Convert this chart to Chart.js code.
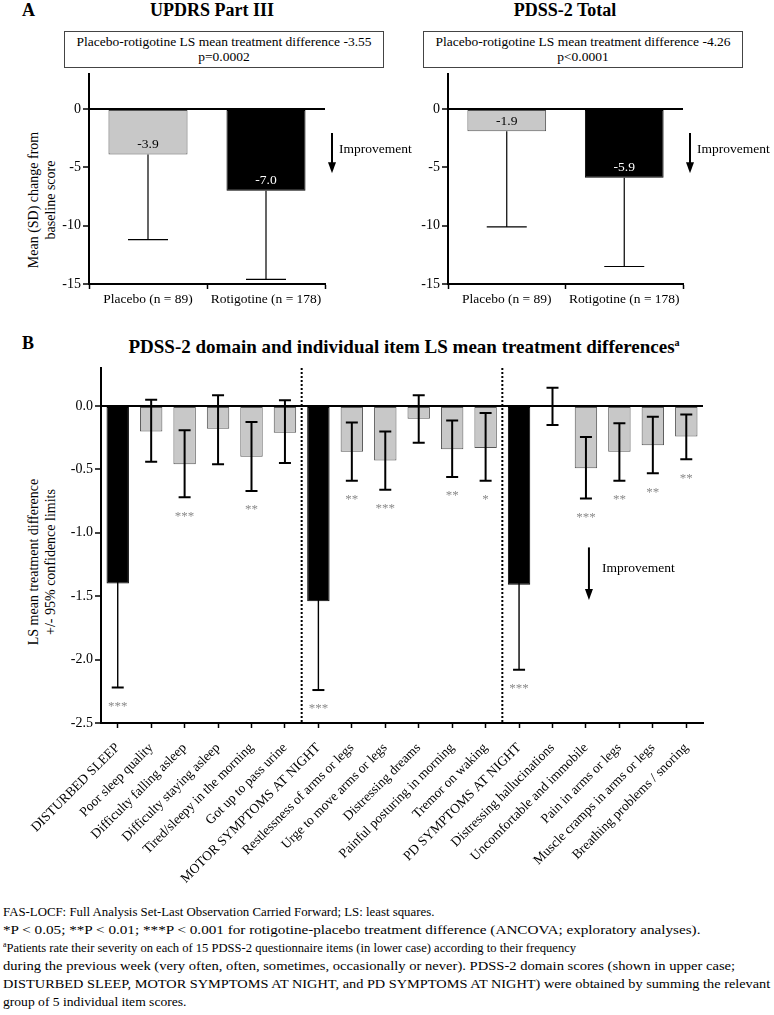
<!DOCTYPE html>
<html>
<head>
<meta charset="utf-8">
<script src="https://cdn.jsdelivr.net/npm/chart.js@4"></script>
<style>
body { margin:0; background:#fff; }
#page { position:relative; width:774px; height:1015px; font-family:'Liberation Serif','Times New Roman',serif; color:#000; overflow:hidden; }
#page div, #page canvas { position:absolute; }
.hd { font-weight:bold; font-size:18px; line-height:20px; }
.box { border:1px solid #444; text-align:center; font-size:13.5px; line-height:15px; padding-top:2px; box-sizing:border-box; }
.ytitle { text-align:center; font-size:14px; line-height:17px; transform:rotate(-90deg); }
.ln { left:3px; font-size:13px; line-height:18px; white-space:nowrap; transform-origin:0 50%; }
.ln sup { font-size:8px; line-height:0; vertical-align:5px; }
</style>
</head>
<body>
<div id="page">
  <div class="hd" style="left:22px;top:0px;">A</div>
  <div class="hd" style="left:100px;top:0px;width:224px;text-align:center;">UPDRS Part III</div>
  <div class="hd" style="left:453px;top:0px;width:224px;text-align:center;">PDSS-2 Total</div>
  <div class="box" style="left:64px;top:31px;width:320px;height:37px;">Placebo-rotigotine LS mean treatment difference -3.55<br>p=0.0002</div>
  <div class="box" style="left:423px;top:31px;width:320px;height:37px;">Placebo-rotigotine LS mean treatment difference -4.26<br>p&lt;0.0001</div>
  <div class="ytitle" style="left:-68px;top:183px;width:220px;height:34px;">Mean (SD) change from<br>baseline score</div>

  <div class="hd" style="left:22px;top:333px;">B</div>
  <div class="hd" style="left:104px;top:333px;width:600px;text-align:center;font-size:19px;">PDSS-2 domain and individual item LS mean treatment differences<sup style="font-size:10px;">a</sup></div>
  <div class="ytitle" style="left:-118px;top:545px;width:320px;height:34px;">LS mean treatment difference<br>+/- 95% confidence limits</div>

  <canvas id="c1" width="420" height="260" style="left:0px;top:60px;"></canvas>
  <canvas id="c2" width="374" height="260" style="left:400px;top:60px;"></canvas>
  <canvas id="c3" width="774" height="540" style="left:0px;top:355px;"></canvas>

  <div class="ln" data-w="431" style="top:903px;">FAS-LOCF: Full Analysis Set-Last Observation Carried Forward; LS: least squares.</div>
  <div class="ln" data-w="697" style="top:921px;">*P &lt; 0.05; **P &lt; 0.01; ***P &lt; 0.001 for rotigotine-placebo treatment difference (ANCOVA; exploratory analyses).</div>
  <div class="ln" data-w="573" style="top:939px;"><sup>a</sup>Patients rate their severity on each of 15 PDSS-2 questionnaire items (in lower case) according to their frequency</div>
  <div class="ln" data-w="732" style="top:957px;">during the previous week (very often, often, sometimes, occasionally or never). PDSS-2 domain scores (shown in upper case;</div>
  <div class="ln" data-w="767" style="top:975px;">DISTURBED SLEEP, MOTOR SYMPTOMS AT NIGHT, and PD SYMPTOMS AT NIGHT) were obtained by summing the relevant</div>
  <div class="ln" data-w="183" style="top:993px;">group of 5 individual item scores.</div>
</div>

<script>
// panel A
const groupLabels = ['Placebo (n = 89)', 'Rotigotine (n = 178)'];
const updrsMean = [-3.9, -7.0];
const updrsLow = [-11.2, -14.6];
const pdssMean = [-1.9, -5.9];
const pdssLow = [-10.1, -13.5];

// panel B
const items = ['DISTURBED SLEEP', 'Poor sleep quality', 'Difficulty falling asleep', 'Difficulty staying asleep',
  'Tired/sleepy in the morning', 'Got up to pass urine', 'MOTOR SYMPTOMS AT NIGHT', 'Restlessness of arms or legs',
  'Urge to move arms or legs', 'Distressing dreams', 'Painful posturing in morning', 'Tremor on waking',
  'PD SYMPTOMS AT NIGHT', 'Distressing hallucinations', 'Uncomfortable and immobile', 'Pain in arms or legs',
  'Muscle cramps in arms or legs', 'Breathing problems / snoring'];
const itemDiff = [-1.40, -0.20, -0.46, -0.18, -0.40, -0.21, -1.54, -0.36, -0.43, -0.10, -0.34, -0.33, -1.41, 0.00, -0.49, -0.36, -0.31, -0.24];
const ciLow = [-2.22, -0.44, -0.72, -0.46, -0.67, -0.45, -2.24, -0.59, -0.66, -0.29, -0.56, -0.59, -2.08, -0.15, -0.73, -0.59, -0.53, -0.42];
const ciHigh = [-0.58, 0.05, -0.19, 0.085, -0.125, 0.045, -0.84, -0.13, -0.20, 0.085, -0.115, -0.055, -0.74, 0.145, -0.245, -0.135, -0.085, -0.066];
const stars = ['***', '', '***', '', '**', '', '***', '**', '***', '', '**', '*', '***', '', '***', '**', '**', '**'];
const domains = [0, 6, 12];

const SERIF = "'Liberation Serif', 'Times New Roman', serif";
const GRAY = '#c8c8c8';

// squeeze/stretch each footnote line to the width it has in the figure
document.querySelectorAll('.ln').forEach(el => {
  el.style.transform = 'scaleX(' + (+el.dataset.w / el.scrollWidth) + ')';
});

function arrow(ctx, x, y1, y2, text) {
  ctx.save();
  ctx.strokeStyle = '#000';
  ctx.fillStyle = '#000';
  ctx.lineWidth = 2;
  ctx.beginPath();
  ctx.moveTo(x, y1);
  ctx.lineTo(x, y2 - 9);
  ctx.stroke();
  ctx.beginPath();
  ctx.moveTo(x - 4, y2 - 11);
  ctx.lineTo(x + 4, y2 - 11);
  ctx.lineTo(x, y2);
  ctx.closePath();
  ctx.fill();
  ctx.font = '13.5px ' + SERIF;
  ctx.textBaseline = 'middle';
  ctx.fillText(text, x + 7, (y1 + y2) / 2 - 4);
  ctx.restore();
}

// error bars (downward SD) + value labels + arrow for panel A
function panelAPlugin(means, lows) {
  return {
    id: 'panelA',
    afterDatasetsDraw(chart) {
      const ctx = chart.ctx, x = chart.scales.x, y = chart.scales.y;
      ctx.save();
      ctx.strokeStyle = '#000';
      ctx.lineWidth = 1.2;
      means.forEach((m, i) => {
        const cx = x.getPixelForValue(i);
        ctx.beginPath();
        ctx.moveTo(cx, y.getPixelForValue(m));
        ctx.lineTo(cx, y.getPixelForValue(lows[i]));
        ctx.moveTo(cx - 20, y.getPixelForValue(lows[i]));
        ctx.lineTo(cx + 20, y.getPixelForValue(lows[i]));
        ctx.stroke();
        ctx.font = '13.5px ' + SERIF;
        ctx.textAlign = 'center';
        ctx.textBaseline = 'middle';
        ctx.fillStyle = i === 1 ? '#fff' : '#000';
        ctx.fillText(m.toFixed(1), cx, y.getPixelForValue(m) - 10);
      });
      ctx.restore();
      arrow(ctx, chart.chartArea.right + 7, y.getPixelForValue(-2.05), y.getPixelForValue(-5.5), 'Improvement');
    }
  };
}

function panelA(id, means, lows, yW, padRight) {
  new Chart(document.getElementById(id), {
    type: 'bar',
    data: {
      labels: groupLabels,
      datasets: [{
        data: means,
        backgroundColor: [GRAY, '#000'],
        borderColor: ['#555', '#000'],
        borderWidth: 1,
        borderSkipped: false,
        barPercentage: 0.67,
        categoryPercentage: 1
      }]
    },
    options: {
      responsive: false,
      animation: false,
      events: [],
      layout: { padding: { top: 14, left: 0, right: padRight, bottom: 0 } },
      plugins: { legend: { display: false }, tooltip: { enabled: false } },
      scales: {
        x: {
          afterFit(s) { s.height = 36; },
          grid: { display: true, drawOnChartArea: false, offset: true, tickLength: 5, tickColor: '#000', tickWidth: 1.5 },
          border: { display: true, color: '#000', width: 2 },
          ticks: { color: '#000', font: { family: SERIF, size: 13.5 }, padding: 2, maxRotation: 0 }
        },
        y: {
          min: -15, max: 3,
          afterFit(s) { s.width = yW; },
          grid: { drawOnChartArea: true, color: c => c.tick && c.tick.value === 0 ? '#000' : 'rgba(0,0,0,0)', lineWidth: 2, tickLength: 6, tickColor: '#000', tickWidth: 1.5 },
          border: { display: true, color: '#000', width: 2 },
          ticks: { stepSize: 5, includeBounds: false, color: '#000', font: { family: SERIF, size: 14 }, padding: 2 }
        }
      }
    },
    plugins: [panelAPlugin(means, lows)]
  });
}

panelA('c1', updrsMean, updrsLow, 89, 95);
panelA('c2', pdssMean, pdssLow, 48, 91);

// panel B extras: CI bars, stars, dotted dividers, arrow
const panelBPlugin = {
  id: 'panelB',
  beforeDatasetsDraw(chart) {
    const ctx = chart.ctx, x = chart.scales.x, a = chart.chartArea;
    ctx.save();
    ctx.strokeStyle = '#000';
    ctx.lineWidth = 2;
    ctx.setLineDash([2, 2]);
    [5, 11].forEach(i => {
      const px = (x.getPixelForValue(i) + x.getPixelForValue(i + 1)) / 2;
      ctx.beginPath();
      ctx.moveTo(px, a.top);
      ctx.lineTo(px, a.bottom);
      ctx.stroke();
    });
    ctx.restore();
  },
  afterDatasetsDraw(chart) {
    const ctx = chart.ctx, x = chart.scales.x, y = chart.scales.y;
    ctx.save();
    ctx.strokeStyle = '#000';
    itemDiff.forEach((v, i) => {
      const cx = x.getPixelForValue(i);
      const dom = domains.includes(i);
      const yl = y.getPixelForValue(ciLow[i]), yh = y.getPixelForValue(ciHigh[i]);
      ctx.lineWidth = dom ? 1.4 : 2;
      ctx.beginPath();
      ctx.moveTo(cx, yh);
      ctx.lineTo(cx, yl);
      ctx.stroke();
      ctx.lineWidth = 2;
      ctx.beginPath();
      ctx.moveTo(cx - 6, yl);
      ctx.lineTo(cx + 6, yl);
      if (!dom) {
        ctx.moveTo(cx - 6, yh);
        ctx.lineTo(cx + 6, yh);
      }
      ctx.stroke();
      if (stars[i]) {
        ctx.font = '13px ' + SERIF;
        ctx.fillStyle = '#8a8a8a';
        ctx.textAlign = 'center';
        ctx.textBaseline = 'middle';
        ctx.fillText(stars[i], cx, yl + 19);
      }
    });
    ctx.restore();
    arrow(ctx, x.getPixelForValue(14) + 3, y.getPixelForValue(-1.115), y.getPixelForValue(-1.53), '');
    ctx.save();
    ctx.font = '13.5px ' + SERIF;
    ctx.textBaseline = 'middle';
    ctx.fillStyle = '#000';
    ctx.fillText('Improvement', x.getPixelForValue(14) + 16, y.getPixelForValue(-1.28));
    ctx.restore();
  }
};

new Chart(document.getElementById('c3'), {
  type: 'bar',
  data: {
    labels: items,
    datasets: [{
      data: itemDiff,
      backgroundColor: items.map((l, i) => domains.includes(i) ? '#000' : GRAY),
      borderColor: items.map((l, i) => domains.includes(i) ? '#000' : '#555'),
      borderWidth: 1,
      borderSkipped: false,
      barPercentage: 0.67,
      categoryPercentage: 1
    }]
  },
  options: {
    responsive: false,
    animation: false,
    events: [],
    layout: { padding: { top: 13, left: 0, right: 71, bottom: 0 } },
    plugins: { legend: { display: false }, tooltip: { enabled: false } },
    scales: {
      x: {
        afterFit(s) { s.height = 172; },
        grid: { display: true, drawOnChartArea: false, offset: false, tickLength: 5, tickColor: '#000', tickWidth: 1.5 },
        border: { display: true, color: '#000', width: 2 },
        ticks: { color: '#000', font: { family: SERIF, size: 13.5 }, minRotation: 45, maxRotation: 45, padding: 12, autoSkip: false }
      },
      y: {
        min: -2.5, max: 0.3,
        afterFit(s) { s.width = 101; },
        grid: { drawOnChartArea: true, color: c => c.tick && c.tick.value === 0 ? '#000' : 'rgba(0,0,0,0)', lineWidth: 2, tickLength: 6, tickColor: '#000', tickWidth: 1.5 },
        border: { display: true, color: '#000', width: 2 },
        ticks: { stepSize: 0.5, includeBounds: false, color: '#000', font: { family: SERIF, size: 14 }, padding: 2, callback: v => v.toFixed(1) }
      }
    }
  },
  plugins: [panelBPlugin]
});
</script>
</body>
</html>
